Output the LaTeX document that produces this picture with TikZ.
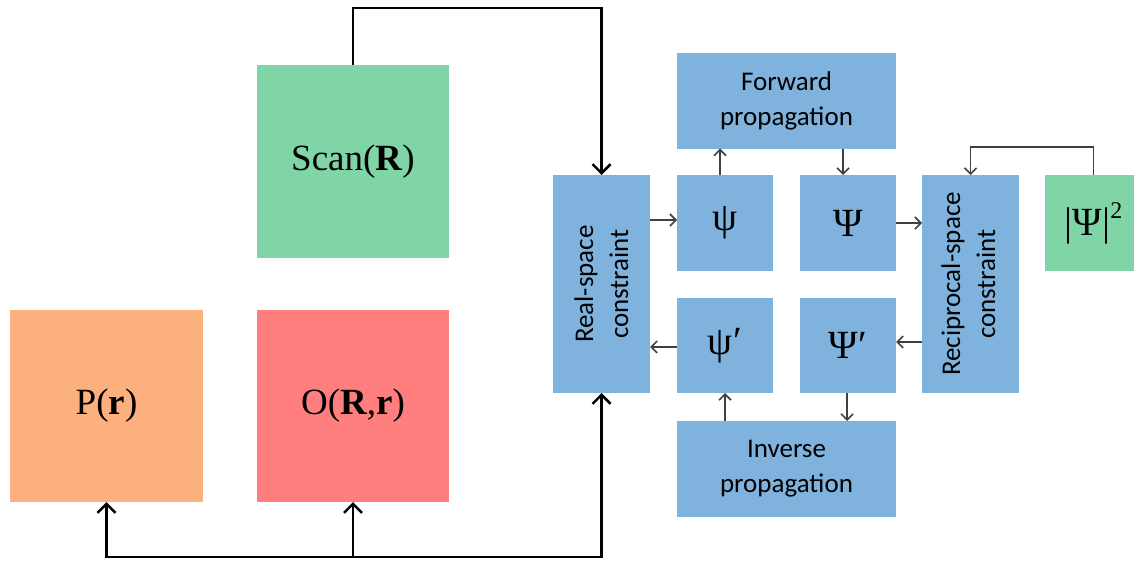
\documentclass[tikz,border=0pt]{standalone}
\usepackage{fontspec}
\usepackage{graphicx}
\setmainfont{Liberation Serif}
\newfontfamily\labelfont{Carlito}
\usetikzlibrary{arrows.meta,calc}
\definecolor{boxgreen}{RGB}{128,213,167}
\definecolor{boxorange}{RGB}{251,176,126}
\definecolor{boxred}{RGB}{255,127,127}
\definecolor{boxblue}{RGB}{127,179,221}
\definecolor{flowgray}{RGB}{64,64,64}
\newcommand{\vlabel}[2]{\rotatebox{90}{\begin{tabular}{@{}c@{}}#1\\#2\end{tabular}}}
\newcommand{\greek}[1]{\raisebox{-3pt}{#1}}
\begin{document}
\begin{tikzpicture}[x=1pt,y=-1pt,
  blk/.style={inner sep=0pt, outer sep=0pt, align=center},
  symtext/.style={font=\fontsize{37}{44}\selectfont},
  greektext/.style={font=\fontsize{40}{46}\selectfont},
  wordtext/.style={font=\labelfont\fontsize{27}{35}\selectfont},
  bigflow/.style={line width=2.6pt, draw=black, line join=miter,
    -{Straight Barb[length=9pt,width=18pt]}},
  smallflow/.style={line width=1.6pt, draw=flowgray, line join=miter,
    -{Straight Barb[length=6pt,width=12pt]}}]

\useasboundingbox (0,0) rectangle (1134,562);

% sample, probe and object boxes
\node[blk, symtext, fill=boxgreen, minimum width=192pt, minimum height=193pt] (scan) at (353,161.5) {Scan(\textbf{R})};
\node[blk, symtext, fill=boxorange, minimum width=193pt, minimum height=192pt] (probe) at (106.5,406) {P(\textbf{r})};
\node[blk, symtext, fill=boxred, minimum width=192pt, minimum height=192pt] (obj) at (353,406) {O(\textbf{R},\textbf{r})};

% iterative loop
\node[blk, wordtext, fill=boxblue, minimum width=97pt, minimum height=218pt] (real) at (601.5,284) {\hspace*{4pt}\vlabel{Real-space}{constraint}};
\node[blk, wordtext, fill=boxblue, minimum width=97pt, minimum height=218pt] (recip) at (970.5,284) {\vlabel{Reciprocal-space}{constraint}};
\node[blk, greektext, fill=boxblue, minimum width=96pt, minimum height=96pt] (psi) at (725,223) {\greek{ψ}};
\node[blk, greektext, fill=boxblue, minimum width=96pt, minimum height=96pt] (Psi) at (848,223) {\greek{Ψ}};
\node[blk, greektext, fill=boxblue, minimum width=96pt, minimum height=95pt] (psip) at (725,345.5) {\greek{ψ\kern1pt′}};
\node[blk, greektext, fill=boxblue, minimum width=96pt, minimum height=95pt] (Psip) at (848,345.5) {\greek{Ψ′}};
\node[blk, wordtext, fill=boxblue, minimum width=219pt, minimum height=96pt] (fwd) at (786.5,100.5) {Forward\\propagation};
\node[blk, wordtext, fill=boxblue, minimum width=219pt, minimum height=96pt] (inv) at (786.5,469) {Inverse\\propagation};
\node[blk, greektext, fill=boxgreen, minimum width=97pt, minimum height=96pt] (meas) at (1093.5,223) {\greek{|Ψ|\raisebox{0.42em}{\fontsize{24}{24}\selectfont 2}}};

% heavy connectors
\coordinate (topline) at (0,8);
\coordinate (botline) at (0,557);
\draw[bigflow] (scan.north) -- (scan.north |- topline) -- (real.north |- topline) -- (real.north);
\draw[bigflow, {Straight Barb[length=9pt,width=18pt]}-{Straight Barb[length=9pt,width=18pt]}]
  (probe.south) -- (probe.south |- botline) -- (real.south |- botline) -- (real.south);
\draw[bigflow] (obj.south |- botline) -- (obj.south);

% light connectors
\coordinate (r1) at ($(psi.west)+(0,-3)$);
\draw[smallflow] (r1 -| real.east) -- (r1);
\draw[smallflow] (Psi.east) -- (Psi.east -| recip.west);
\coordinate (r2) at ($(psip.west)+(0,1.5)$);
\draw[smallflow] (r2) -- (r2 -| real.east);
\coordinate (r3) at ($(Psip.east)+(0,-3.5)$);
\draw[smallflow] (r3 -| recip.west) -- (r3);
\coordinate (c1) at ($(psi.north)+(-5,0)$);
\draw[smallflow] (c1) -- (c1 |- fwd.south);
\coordinate (c2) at ($(Psi.north)+(-5,0)$);
\draw[smallflow] (c2 |- fwd.south) -- (c2);
\draw[smallflow] (inv.north -| psip.south) -- (psip.south);
\coordinate (c3) at ($(Psip.south)+(-1,0)$);
\draw[smallflow] (c3) -- (c3 |- inv.north);
\coordinate (fb) at (0,147);
\draw[smallflow] (meas.north) -- (meas.north |- fb) -- (recip.north |- fb) -- (recip.north);
\end{tikzpicture}
\end{document}
